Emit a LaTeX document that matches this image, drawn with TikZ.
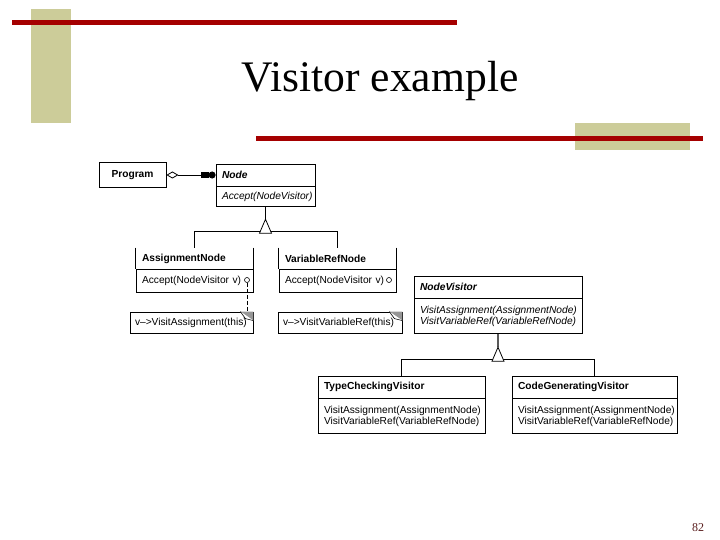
\documentclass[tikz,border=0pt]{standalone}
\usepackage{fontspec}
\setmainfont{Liberation Serif}
\setsansfont{Liberation Sans}
\usetikzlibrary{arrows.meta,calc}
\definecolor{barred}{RGB}{165,0,0}
\definecolor{bartan}{RGB}{204,204,153}
\definecolor{eargray}{RGB}{150,150,150}
\definecolor{pagenum}{RGB}{90,30,30}
\newcommand{\umlfont}{\sffamily\fontsize{10.2}{11.5}\selectfont}
\begin{document}
\begin{tikzpicture}[
    x=1pt, y=-1pt, line width=0.8pt,
    box/.style={draw, font=\umlfont, align=left, inner xsep=6pt, inner ysep=0pt},
    openbox/.style={box, draw=none},
    notebox/.style={box, inner xsep=5pt},
    port/.style={draw, circle, inner sep=0pt, minimum size=5pt, line width=0.6pt},
    >=stealth
]
\useasboundingbox (0,0) rectangle (720,540);
% slide decoration
\fill[bartan] (31,9) rectangle (71,123);
\fill[bartan] (575,123) rectangle (690,150);
\fill[barred] (12,20) rectangle (457,25);
\fill[barred] (256,136) rectangle (703,141);
\node[font=\fontsize{43.6}{48}\selectfont, anchor=base] (title) at (380,92) {Visitor example};
\node[font=\fontsize{12}{14}\selectfont, text=pagenum, anchor=base] (page) at (698,531) {82};

% element classes
\node[box, align=center, text width=55pt, minimum height=25pt, font=\umlfont\bfseries] (program) at (132.5,175) {Program};
\node[box, text width=87pt, minimum height=22pt, font=\umlfont\bfseries\itshape] (node) at (265.5,175) {Node};
\node[box, text width=87pt, minimum height=20pt, font=\umlfont\itshape, anchor=north] (nodeops) at (node.south) {Accept(NodeVisitor)};

\node[openbox, text width=105pt, minimum height=21pt, font=\umlfont\bfseries] (an) at (194.5,258.5) {AssignmentNode};
\node[box, text width=105pt, minimum height=23pt, anchor=north] (anops) at (an.south) {Accept(NodeVisitor v)};
\node[openbox, text width=105pt, minimum height=21pt, font=\umlfont\bfseries] (vn) at (337.5,258.5) {VariableRefNode};
\node[box, text width=105pt, minimum height=23pt, anchor=north] (vnops) at (vn.south) {Accept(NodeVisitor v)};
\draw (an.north west) -- (an.south west) (an.north east) -- (an.south east);
\draw (vn.north west) -- (vn.south west) (vn.north east) -- (vn.south east);

% notes
\node[notebox, text width=113pt, minimum height=21pt] (note1) at (191.5,322.5) {\mbox{v\textendash>VisitAssignment(this)}};
\node[notebox, text width=114pt, minimum height=21pt] (note2) at (340,322.5) {\mbox{v\textendash>VisitVariableRef(this)}};
\foreach \n in {note1,note2} {
  \fill[eargray] ($(\n.north east)+(-13,0)$) -- (\n.north east) -- ($(\n.north east)+(0,9)$) -- cycle;
  \draw[fill=white, line width=0.6pt] ($(\n.north east)+(-13,0)$) -- ($(\n.north east)+(-8,7)$) -- ($(\n.north east)+(0,9)$);
}
\node[port] (anport) at (247,280) {};
\node[port] (vnport) at (389,280) {};
\draw[dash pattern=on 4pt off 2pt] (anport) -- (anport |- note1.north);

% visitor classes
\node[box, text width=156pt, minimum height=22pt, font=\umlfont\bfseries\itshape] (nv) at (498,287) {NodeVisitor};
\node[box, text width=156pt, minimum height=35pt, font=\umlfont\itshape, anchor=north] (nvops) at (nv.south) {VisitAssignment(AssignmentNode)\\VisitVariableRef(VariableRefNode)};
\node[box, text width=155pt, minimum height=22pt, font=\umlfont\bfseries] (tcv) at (401.5,387) {TypeCheckingVisitor};
\node[box, text width=155pt, minimum height=35pt, anchor=north] (tcvops) at (tcv.south) {VisitAssignment(AssignmentNode)\\VisitVariableRef(VariableRefNode)};
\node[box, text width=153pt, minimum height=22pt, font=\umlfont\bfseries] (cgv) at (594.5,387) {CodeGeneratingVisitor};
\node[box, text width=153pt, minimum height=35pt, anchor=north] (cgvops) at (cgv.south) {VisitAssignment(AssignmentNode)\\VisitVariableRef(VariableRefNode)};

% aggregation
\draw[{Diamond[open,length=12pt,width=7pt]}-{Rectangle[length=8pt,width=5pt]Circle[length=7pt]}] (program) -- (node);

% inheritance
\coordinate (nodeTip) at ($(nodeops.south)+(0,12)$);
\draw (nodeops.south) -- (nodeTip);
\draw (an.north) -- ++(0,-16) -| (vn.north);
\draw[fill=white] (nodeTip) -- ++(-6,14) -- ++(12,0) -- cycle;
\coordinate (nvTip) at ($(nvops.south)+(0,13)$);
\draw[gray!70!black, line width=1.6pt] (nvops.south) -- (nvTip);
\draw (tcv.north) -- ++(0,-16) -| (cgv.north);
\draw[fill=white] (nvTip) -- ++(-6,14) -- ++(12,0) -- cycle;
\end{tikzpicture}
\end{document}
